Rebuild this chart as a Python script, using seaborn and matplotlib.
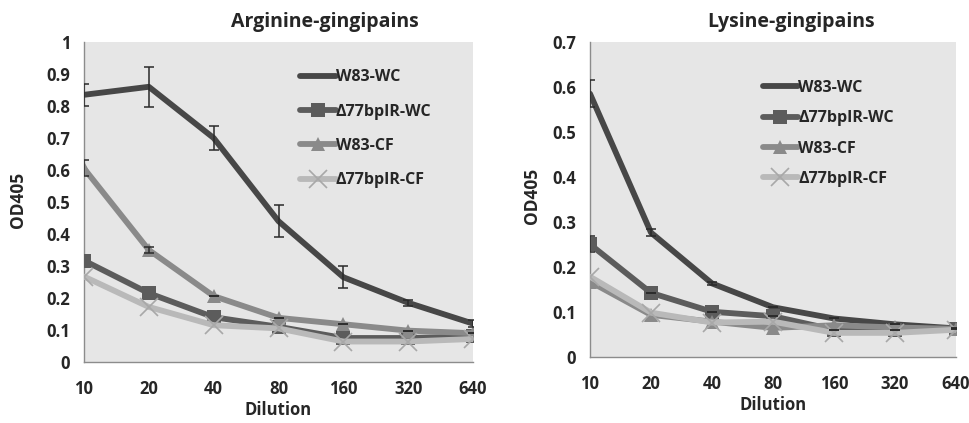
import numpy as np
import pandas as pd
import matplotlib
matplotlib.use("Agg")
import matplotlib.pyplot as plt
import seaborn as sns

dilutions = ["10", "20", "40", "80", "160", "320", "640"]
series_names = ["W83-WC", "Δ77bpIR-WC", "W83-CF", "Δ77bpIR-CF"]

# Arginine-gingipains
arg_w83_wc = [0.835, 0.86, 0.70, 0.44, 0.265, 0.185, 0.12]
arg_w83_wc_err = [0.035, 0.062, 0.037, 0.05, 0.035, 0.01, 0.01]
arg_d77_wc = [0.317, 0.215, 0.14, 0.11, 0.075, 0.075, 0.08]
arg_w83_cf = [0.605, 0.35, 0.206, 0.138, 0.118, 0.098, 0.09]
arg_w83_cf_err = [0.025, 0.01, 0, 0, 0, 0, 0]
arg_d77_cf = [0.267, 0.172, 0.115, 0.105, 0.064, 0.064, 0.072]

# Lysine-gingipains
lys_w83_wc = [0.585, 0.276, 0.163, 0.11, 0.085, 0.072, 0.063]
lys_w83_wc_err = [0.03, 0.007, 0.003, 0, 0, 0, 0]
lys_d77_wc = [0.25, 0.142, 0.10, 0.09, 0.06, 0.06, 0.062]
lys_d77_wc_err = [0.018, 0, 0, 0, 0, 0, 0]
lys_w83_cf = [0.167, 0.093, 0.078, 0.064, 0.07, 0.065, 0.062]
lys_d77_cf = [0.178, 0.098, 0.076, 0.078, 0.053, 0.053, 0.06]

colors = ["#474747", "#5c5c5c", "#8a8a8a", "#b9b9b9"]
markers = [None, "s", "^", "x"]

sns.set_style("white", {"axes.facecolor": "#e6e6e6"})
plt.rcParams["font.family"] = ["Open Sans", "DejaVu Sans"]
plt.rcParams["font.weight"] = "bold"

fig = plt.figure(figsize=(9.7, 4.23), dpi=100)
ax1 = fig.add_axes([84 / 970, 1 - 362 / 423, 389 / 970, 320 / 423])
ax2 = fig.add_axes([590 / 970, 1 - 356.7 / 423, 366 / 970, 314.7 / 423])


def draw_panel(ax, values, errors, ymax, yticks, ylabels, title, title_x, legend_pos, spacing):
    x = np.arange(len(dilutions))
    for i, name in enumerate(series_names):
        df = pd.DataFrame({"x": x, "y": values[i]})
        mk = markers[i]
        kw = {}
        if mk == "x":
            kw = dict(markersize=13, markeredgewidth=1.2, markeredgecolor="#a8a8a8")
        elif mk is not None:
            kw = dict(markersize=10, markeredgewidth=0, markerfacecolor=colors[i])
        sns.lineplot(data=df, x="x", y="y", ax=ax, color=colors[i], lw=4.2,
                     marker=mk, label=name, zorder=3 + i * 0.1, **kw)
    for i, err in errors.items():
        ax.errorbar(x, values[i], yerr=err, fmt="none", ecolor="#2a2a2a",
                    elinewidth=1.1, capsize=3.5, capthick=1.1, zorder=6)

    ax.set_xlim(0, len(dilutions) - 1)
    ax.set_ylim(0, ymax)
    ax.set_xticks(x)
    ax.set_xticklabels(dilutions, fontsize=12, fontweight="bold")
    ax.set_yticks(yticks)
    ax.set_yticklabels(ylabels, fontsize=12, fontweight="bold")
    ax.set_xlabel("")
    ax.set_ylabel("")
    ax.tick_params(axis="both", direction="out", length=5, width=1, color="#8c8c8c", pad=5)
    ax.tick_params(axis="x", pad=8)
    for s in ["top", "right"]:
        ax.spines[s].set_visible(False)
    for s in ["left", "bottom"]:
        ax.spines[s].set_color("#8c8c8c")
        ax.spines[s].set_linewidth(1)
    ax.set_title(title, x=title_x, y=1.02, fontsize=14, fontweight="bold")

    leg = ax.legend(loc="upper left", bbox_to_anchor=legend_pos, frameon=False,
                    fontsize=11.5, handlelength=2.2, handletextpad=0.0,
                    labelspacing=spacing, borderaxespad=0)
    for t in leg.get_texts():
        t.set_fontweight("bold")


draw_panel(ax1, [arg_w83_wc, arg_d77_wc, arg_w83_cf, arg_d77_cf],
           {0: arg_w83_wc_err, 2: arg_w83_cf_err}, 1.0,
           np.round(np.arange(0, 1.01, 0.1), 1),
           ["0", "0.1", "0.2", "0.3", "0.4", "0.5", "0.6", "0.7", "0.8", "0.9", "1"],
           "Arginine-gingipains", 0.62, (0.54, 0.935), 1.15)

draw_panel(ax2, [lys_w83_wc, lys_d77_wc, lys_w83_cf, lys_d77_cf],
           {0: lys_w83_wc_err, 1: lys_d77_wc_err}, 0.7,
           np.round(np.arange(0, 0.71, 0.1), 1),
           ["0", "0.1", "0.2", "0.3", "0.4", "0.5", "0.6", "0.7"],
           "Lysine-gingipains", 0.55, (0.455, 0.9), 0.9)

fig.text(18 / 970, 1 - 200 / 423, "OD405", rotation=90, ha="center", va="center",
         fontsize=12.5, fontweight="bold")
fig.text(532 / 970, 1 - 196 / 423, "OD405", rotation=90, ha="center", va="center",
         fontsize=12.5, fontweight="bold")
fig.text(278 / 970, 1 - 410 / 423, "Dilution", ha="center", va="center",
         fontsize=12, fontweight="bold")
fig.text(773 / 970, 1 - 405 / 423, "Dilution", ha="center", va="center",
         fontsize=12, fontweight="bold")

fig.savefig("out.png", dpi=100)
